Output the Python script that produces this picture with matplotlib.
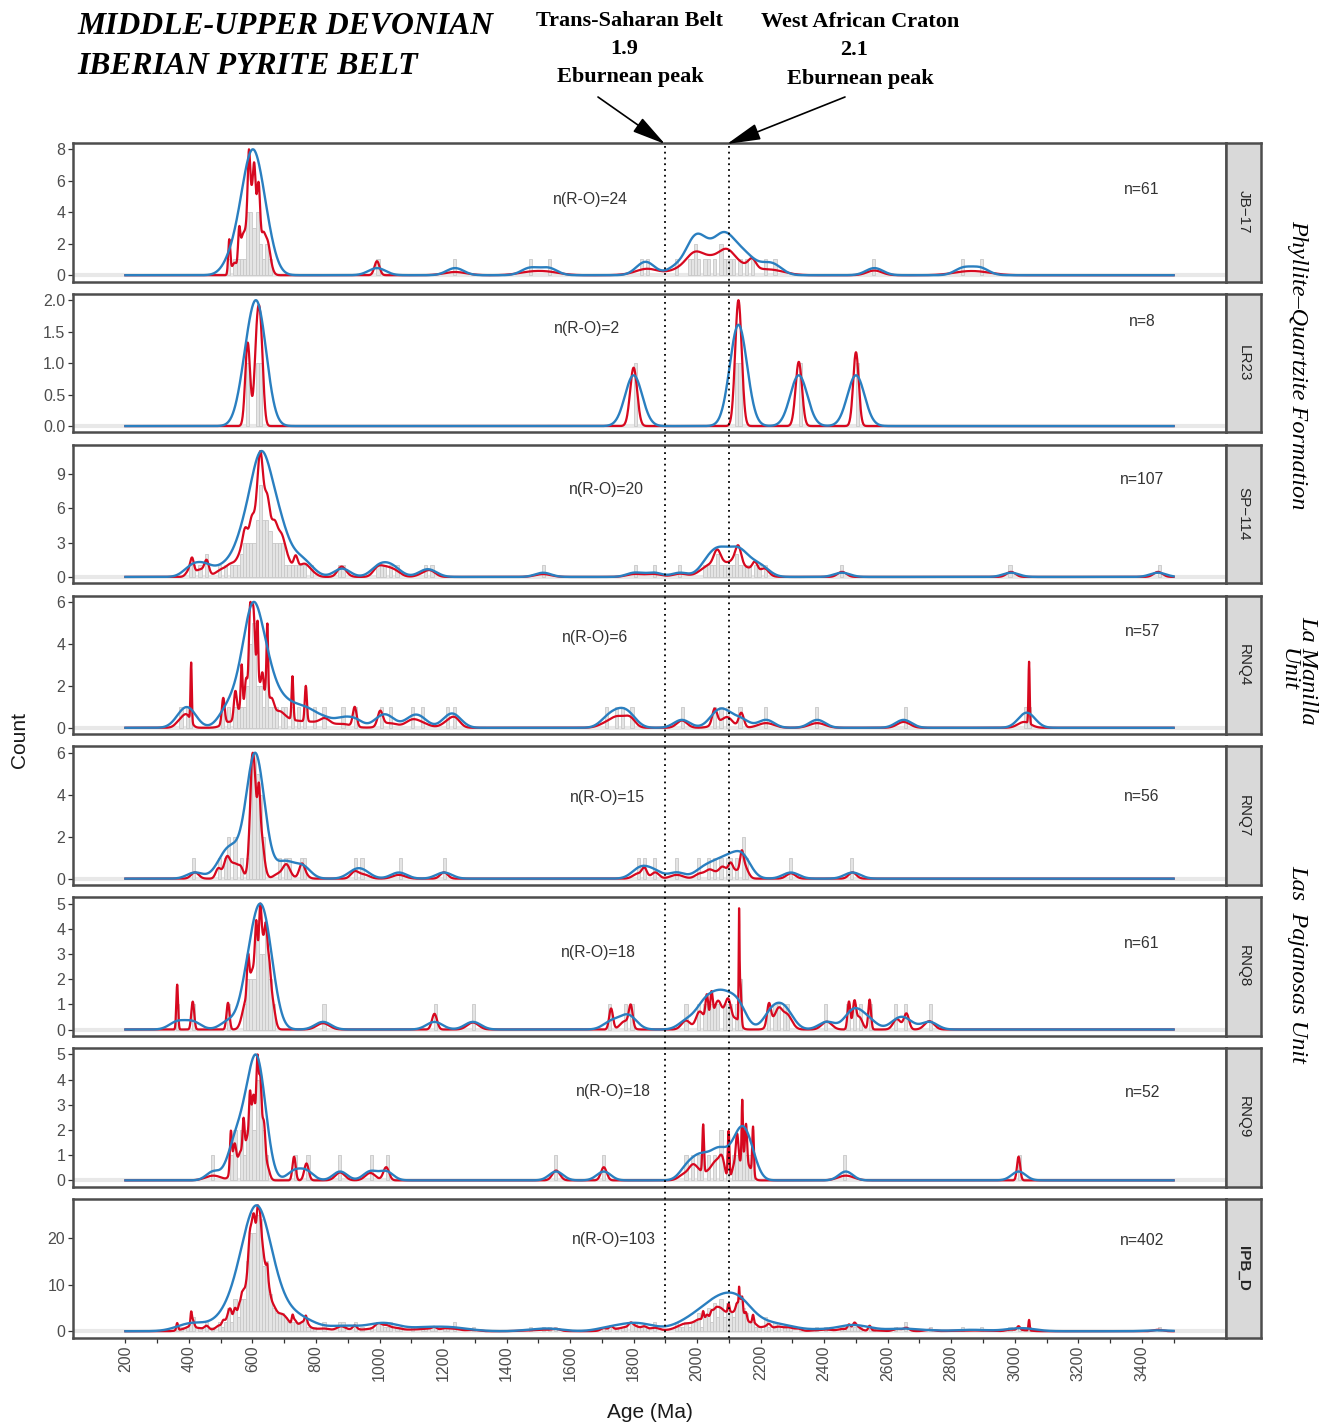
import numpy as np
import matplotlib
matplotlib.use('Agg')
import matplotlib.pyplot as plt
from matplotlib.patches import FancyArrowPatch
from matplotlib.lines import Line2D

# ---------------- data: (age Ma, 1-sigma error Ma) per grain ----------------
JB17 = [(527,3.3),(544,9),(558,3.4),(565,6),(572,6.5),(580,8),(586,6),(588,3.5),(590,4),(594,6),
        (599,6),(603,5),(606,3.5),(610,6),(616,7),(618,4.5),(621,4),(626,8),(634,6),(640,10),
        (647,7.5),(652,10),(600,10),(612,9),(584,10),(596,10),
        (992,8),(1238,35),(1473,40),(1532,40),(1828,40),(1847,30),(1931,35),
        (1975,35),(1985,30),(1991,22),(1998,35),(2008,35),(2020,35),(2035,40),(2054,35),(2070,35),
        (2078,40),(2084,30),(2094,20),(2102,30),(2118,35),(2135,40),(2150,40),(2173,12),
        (2216,40),(2247,40),(2558,24),(2838,45),(2891,45)]
LR23 = [(585,7.7),(614,8),(626,8),(1800,11),(2128,10),(2132,10),(2320,10),(2500,8.7)]
SP114 = [(402,10),(410,5.5),(430,12),(452,12),(456,6.5),
         (495,15),(515,15),(530,12),(545,15),(555,15),
         (560,12),(566,12),(571,10),(575,8),(578,7),(582,10),(587,10),(592,9),(596,7),(599,7),
         (603,10),(607,10),(611,10),(614,9),(617,8),(620,8),(622,8),(623,8),(624,8),(625,7),
         (626,8),(627,8),(628,8),(630,8),(633,9),(636,10),(640,10),(643,8),(646,7),(648,7),
         (651,9),(655,11),(659,12),(663,12),(667,10),(671,8),(675,11),(680,12),(685,12),(690,10),
         (694,9),(699,12),(704,12),(619,12),(631,12),(641,12),(609,12),(589,14),(652,12),(661,14),
         (672,14),(612,12),(634,12),(683,14),
         (712,12),(720,15),(736,6),(745,15),(755,15),(768,12),(786,15),
         (879,12),(885,15),(991,14),(1000,15),(1019,15),(1035,18),(1052,18),(1142,20),(1162,16),
         (1515,25),(1803,25),(1864,25),(1946,22),
         (2020,25),(2030,25),(2045,25),(2050,25),(2060,10),(2066,10),(2075,25),(2080,25),(2090,25),
         (2105,25),(2110,25),(2120,12),(2128,8),(2133,9),(2140,25),(2150,25),(2160,25),(2182,8),
         (2195,25),(2214,12),(2456,14),(2988,14),(3451,14)]
RNQ4 = [(375,15),(395,12),(407,2),(508,4.5),(526,20),(546,4.5),(556,10),(566,2.8),(570,8),(580,4),
        (586,8),(590,4),(592,3),(595,5),(598,3.5),(600,7),(602,6),(604,3.5),(606,7),(608,8),
        (612,6),(616,2.2),(620,6),(626,6),(632,4),(640,8),(645,4),(647,2.2),(652,10),(661,8),(679,15),
        (690,20),(705,25),(726,2.7),(745,25),(768,3.3),(790,25),(828,16),(880,30),(922,6),(1002,8),
        (1030,25),(1100,20),(1130,25),(1217,20),(1239,16),(1717,25),(1746,20),(1768,22),(1790,16),
        (1952,16),(2055,7.5),(2075,25),(2097,16),(2139,8),(2217,25),(2378,25),(2650,20),(3030,20),
        (3045,1.9)]
RNQ7 = [(419,12),(492,8),(515,12),(520,8),(525,12),(540,12),(548,10),(564,8),
        (588,6),(592,4),(595,5),(597,3),(599,3.5),(601,4),(603,3),(605,5),(607,3.5),(609,4),
        (611,6),(614,5),(617,4),(620,3.5),(622,3.5),(625,5),(628,6),(632,6),(637,8),(600,6),
        (610,8),(618,8),(596,7),
        (683,15),(705,10),(712,12),(755,8),(760,12),(921,12),(949,18),(1061,20),(1203,12),
        (1813,15),(1834,8),(1868,12),(1936,20),(2009,15),(2037,12),(2057,15),(2078,10),(2094,12),
        (2106,7),(2124,10),(2140,5),(2144,8),(2154,10),(2295,14),(2489,12)]
RNQ8 = [(363,2.8),(412,4.5),(523,4.7),(572,10),(580,8),(586,3.5),(590,6),(598,6),(605,6),(610,4),
        (613,3.5),(618,6),(622,4),(625,3.5),(628,5),(632,5),(636,6),(640,5),(643,4),(648,6),
        (653,5),(658,8),(665,8),(600,8),(615,8),(630,8),(645,8),
        (822,20),(1173,8),(1294,18),(1729,6),(1773,15),(1791,6),(1965,14),
        (2004,10),(2020,12),(2031,4.5),(2045,4),(2057,8),(2069,8),(2080,14),(2092,10),(2100,8),
        (2122,12),(2132,1.3),(2136,3),
        (2226,6),(2240,15),(2257,10),(2275,15),(2287,15),(2408,16),
        (2478,4.5),(2495,5),(2510,10),(2543,4.2),(2629,12),(2659,8),(2731,15)]
RNQ9 = [(477,25),(532,3),(540,10),(544,5),(560,8),(566,8),(572,3.2),(580,6),(586,6),(592,3),(595,8),
        (598,5),(604,4),(610,6),(614,3),(617,3),(622,4),(625,3.5),(628,8),(630,5),(637,4),(645,8),
        (600,8),(612,8),(620,8),
        (731,5),(770,7),(876,15),(971,16),(1021,9),(1556,12),(1706,9),(1962,18),(1986,12),
        (2005,15),(2019,2.5),(2039,15),(2057,12),(2070,12),(2079,8),(2099,2.5),(2118,8),(2126,4),
        (2135,10),(2142,2),(2148,8),(2154,3.2),(2165,10),(2176,2.5),(2468,25),(3012,5)]
IPB_D = JB17 + LR23 + SP114 + RNQ4 + RNQ7 + RNQ8 + RNQ9

sample_names = ['JB\u221217', 'LR23', 'SP\u2212114', 'RNQ4', 'RNQ7', 'RNQ8', 'RNQ9', 'IPB_D']
sample_data = [JB17, LR23, SP114, RNQ4, RNQ7, RNQ8, RNQ9, IPB_D]
kde_bw = [27, 27, 25, 25, 25, 25, 22, 38]
panel_max = [8, 2.0, 11, 6, 6, 5, 5, 27]
y_ticks = [[0, 2, 4, 6, 8], [0, 0.5, 1.0, 1.5, 2.0], [0, 3, 6, 9], [0, 2, 4, 6],
           [0, 2, 4, 6], [0, 1, 2, 3, 4, 5], [0, 1, 2, 3, 4, 5], [0, 10, 20]]
y_tick_labels = [['0', '2', '4', '6', '8'], ['0.0', '0.5', '1.0', '1.5', '2.0'], ['0', '3', '6', '9'],
                 ['0', '2', '4', '6'], ['0', '2', '4', '6'], ['0', '1', '2', '3', '4', '5'],
                 ['0', '1', '2', '3', '4', '5'], ['0', '10', '20']]
n_labels = ['n=61', 'n=8', 'n=107', 'n=57', 'n=56', 'n=61', 'n=52', 'n=402']
ro_labels = ['n(R-O)=24', 'n(R-O)=2', 'n(R-O)=20', 'n(R-O)=6', 'n(R-O)=15', 'n(R-O)=18',
             'n(R-O)=18', 'n(R-O)=103']
x_ticks = list(range(200, 3501, 100))
x_tick_labels = [str(v) if v % 200 == 0 and v <= 3400 else '' for v in x_ticks]
eburnean_ages = [1900, 2100]

# ---------------- layout ----------------
W, H = 1335, 1425
fig = plt.figure(figsize=(W / 100, H / 100), dpi=100)
SANS = ['Liberation Sans', 'DejaVu Sans']
SERIF = ['Liberation Serif', 'DejaVu Serif']

RED = '#d7081f'
BLUE = '#2a7fc0'
BORDER = '#4d4d4d'

ro_x = [1663, 1653, 1713, 1679, 1717, 1688, 1735, 1739]
ro_y = [0.594, 0.75, 0.68, 0.70, 0.63, 0.60, 0.69, 0.705]
n_y = [0.667, 0.80, 0.75, 0.74, 0.64, 0.67, 0.68, 0.70]

grid = np.arange(200, 3501, 1.0)
left_px, width_px, strip_w = 73, 1153, 35
top0, step, ph = 143, 150.86, 138.5

axes = []
for i, (name, data) in enumerate(zip(sample_names, sample_data)):
    top = top0 + i * step
    bottom = top + ph
    ax = fig.add_axes([left_px / W, 1 - bottom / H, width_px / W, ph / H])
    axes.append(ax)
    ages = np.array([d[0] for d in data], float)
    errs = np.array([d[1] for d in data], float)
    M = panel_max[i]

    # histogram (10 Ma bins)
    bins = np.arange(0, 3701, 10)
    cnt, edges = np.histogram(ages, bins)
    nz = cnt > 0
    ax.bar(edges[:-1][nz], cnt[nz], width=10, align='edge', color='#e4e4e4',
           edgecolor='#c8c8c8', linewidth=0.6, zorder=1)
    ax.axhline(0, color='#e8e8e8', lw=3, zorder=0.5)

    # curves
    kde = np.exp(-0.5 * ((grid[:, None] - ages[None, :]) / kde_bw[i]) ** 2).sum(1)
    pdp = (np.exp(-0.5 * ((grid[:, None] - ages[None, :]) / errs[None, :]) ** 2) / errs[None, :]).sum(1)
    kde = kde / kde.max() * M
    pdp = pdp / pdp.max() * M
    ax.plot(grid, pdp, color=RED, lw=1.6, zorder=3, solid_joinstyle='round')
    ax.plot(grid, kde, color=BLUE, lw=1.7, zorder=4)

    ax.set_xlim(35, 3665)
    ax.set_ylim(-0.05 * M, 1.05 * M)
    ax.set_yticks(y_ticks[i])
    ax.set_yticklabels(y_tick_labels[i], fontsize=11.5, color='#4d4d4d', family=SANS)
    ax.tick_params(axis='y', length=3.5, width=0.9, color='#333333', pad=2)
    ax.set_xticks(x_ticks)
    if i == len(sample_names) - 1:
        ax.set_xticklabels(x_tick_labels, rotation=90, fontsize=11.5, color='#4d4d4d', family=SANS)
        ax.tick_params(axis='x', length=3.5, width=0.9, color='#333333', pad=2)
    else:
        ax.tick_params(axis='x', length=0, labelbottom=False)
    for sp in ax.spines.values():
        sp.set_color(BORDER)
        sp.set_linewidth(1.8)

    ax.text(ro_x[i], ro_y[i], ro_labels[i], transform=ax.get_xaxis_transform(),
            ha='center', va='center', fontsize=11.3, color='#333333', family=SANS)
    ax.text(3401, n_y[i], n_labels[i], transform=ax.get_xaxis_transform(),
            ha='center', va='center', fontsize=11.3, color='#333333', family=SANS)

    # facet strip
    sax = fig.add_axes([(left_px + width_px) / W, 1 - bottom / H, strip_w / W, ph / H])
    sax.set_facecolor('#d9d9d9')
    sax.set_xticks([]); sax.set_yticks([])
    for sp in sax.spines.values():
        sp.set_color(BORDER)
        sp.set_linewidth(1.8)
    sax.text(0.5, 0.5, name, rotation=270, ha='center', va='center', fontsize=11,
             color='#262626', family=SANS,
             fontweight='bold' if name == 'IPB_D' else 'normal', transform=sax.transAxes)

# dotted reference lines running through all panels
inv = fig.transFigure.inverted()
y_top = 1 - top0 / H
y_bot = 1 - (top0 + 7 * step + ph) / H
for a in eburnean_ages:
    xf = inv.transform(axes[-1].transData.transform((a, 0)))[0]
    fig.add_artist(Line2D([xf, xf], [y_bot, y_top], transform=fig.transFigure,
                          color='black', lw=1.3, linestyle=(0, (1, 2.2)), zorder=10))

def fx(x):
    return x / W

def fy(y):
    return 1 - y / H

# axis titles
fig.text(fx(649.5), fy(1413), 'Age (Ma)', ha='center', va='center', fontsize=15,
         color='#1a1a1a', family=SANS)
fig.text(fx(20), fy(740), 'Count', ha='center', va='center', rotation=90, fontsize=15,
         color='#1a1a1a', family=SANS)

# title
fig.text(fx(77), fy(26), 'MIDDLE-UPPER DEVONIAN', ha='left', va='center', fontsize=22.8,
         fontweight='bold', fontstyle='italic', family=SERIF)
fig.text(fx(77), fy(66), 'IBERIAN PYRITE BELT', ha='left', va='center', fontsize=22.8,
         fontweight='bold', fontstyle='italic', family=SERIF)

# eburnean annotations
for (cx, lines_) in [(630, [('Trans-Saharan Belt', 21), ('1.9', 49), ('Eburnean peak', 77)]),
                     (860, [('West African Craton', 22), ('2.1', 50), ('Eburnean peak', 79)])]:
    for txt, yy in lines_:
        xx = cx - 6 if txt in ('1.9', '2.1') else cx
        fig.text(fx(xx), fy(yy), txt, ha='center', va='center', fontsize=16,
                 fontweight='bold', family=SERIF)

for (x0, y0, x1, y1) in [(598, 97, 665, 144), (845, 97, 727, 144)]:
    arr = FancyArrowPatch((fx(x0), fy(y0)), (fx(x1), fy(y1)), transform=fig.transFigure,
                          arrowstyle='-|>,head_length=1.3,head_width=0.32', mutation_scale=16,
                          color='black', lw=1.2, shrinkA=0, shrinkB=0)
    fig.add_artist(arr)

# group labels
fig.text(fx(1298), fy(365), 'Phyllite\u2013Quartzite Formation', rotation=270, ha='center',
         va='center', fontsize=17.5, fontstyle='italic', family=SERIF)
fig.text(fx(1298), fy(670), 'La Manilla\nUnit', rotation=270, ha='center', va='center',
         multialignment='center', fontsize=17.5, fontstyle='italic', family=SERIF, linespacing=0.95)
fig.text(fx(1298), fy(964), 'Las  Pajanosas Unit', rotation=270, ha='center', va='center',
         fontsize=17.5, fontstyle='italic', family=SERIF)

fig.savefig('out.png', dpi=100)
